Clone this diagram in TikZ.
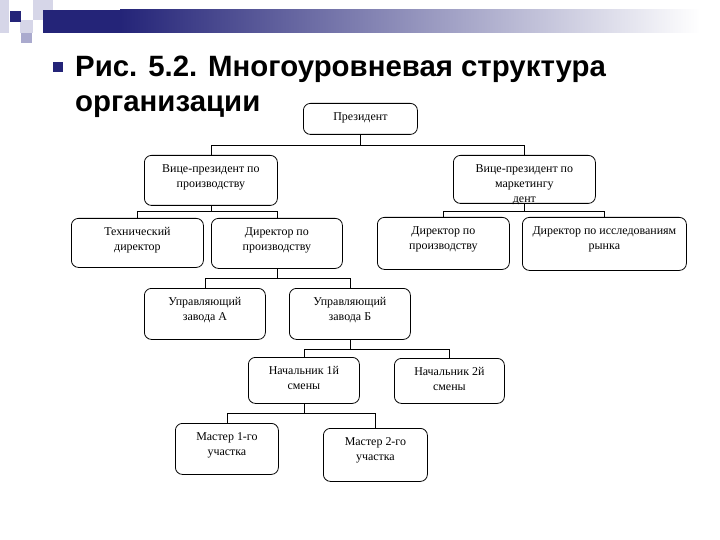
\documentclass[tikz,border=0pt]{standalone}
\usepackage{fontspec}
\setmainfont{Liberation Serif}
\newfontfamily\titlefont{Liberation Sans}
\usetikzlibrary{arrows}
\definecolor{barnavy}{RGB}{36,36,120}
\definecolor{lavlight}{RGB}{214,214,232}
\definecolor{lavmid}{RGB}{170,170,206}
\tikzstyle{orgbox} = [draw=black, fill=white, rectangle, rounded corners=7bp, inner sep=0pt, line width=0.8bp, anchor=north west]
\tikzstyle{link} = [draw=black, line width=0.8bp]
\tikzstyle{headline} = [anchor=base west, inner sep=0pt, font=\titlefont\bfseries\fontsize{29.5}{34}\selectfont]
\newcommand{\txt}[3]{\parbox[c][#2][t]{#1}{\centering\fontsize{12}{15}\selectfont\rule{0pt}{17bp}#3}}

\begin{document}
\begin{tikzpicture}[x=1bp,y=-1bp]
\useasboundingbox (0,0) rectangle (720,540);
% header decoration
\fill[lavlight] (0,0) rectangle (9,33);
\fill[lavlight] (33,0) rectangle (53,20);
\fill[lavlight] (20,20) rectangle (33,33);
\fill[lavmid] (21,33) rectangle (32,43);
\fill[barnavy] (10,11) rectangle (21,22);
\fill[barnavy] (43,10) rectangle (120,33);
\shade[left color=barnavy, right color=white] (120,10) rectangle (700,33);
% title
\node[fill=barnavy, minimum size=10bp, inner sep=0pt] (bullet) at (58,67) {};
\node[headline] (title1) at (75,77) {Рис. 5.2. Многоуровневая структура};
\node[headline] (title2) at (75,112) {организации};

% boxes
\node[orgbox] (pres) at (303,103) {\txt{114bp}{31bp}{Президент}};
\node[orgbox] (vpprod) at (144,155) {\txt{133bp}{50bp}{Вице-президент по\\производству}};
\node[orgbox] (vpmark) at (453,155) {\txt{142bp}{48bp}{Вице-президент по\\маркетингу\\дент}};
\node[orgbox] (techdir) at (71,218) {\txt{132bp}{49bp}{Технический\\директор}};
\node[orgbox] (dirprod) at (211,218) {\txt{131bp}{50bp}{Директор по\\производству}};
\node[orgbox] (dirprodm) at (377,217) {\txt{132bp}{52bp}{Директор по\\производству}};
\node[orgbox] (research) at (522,217) {\txt{164bp}{53bp}{Директор по исследованиям\\рынка}};
\node[orgbox] (uprA) at (144,288) {\txt{121bp}{51bp}{Управляющий\\завода А}};
\node[orgbox] (uprB) at (289,288) {\txt{121bp}{51bp}{Управляющий\\завода Б}};
\node[orgbox] (shift1) at (248,357) {\txt{111bp}{46bp}{Начальник 1й\\смены}};
\node[orgbox] (shift2) at (394,358) {\txt{110bp}{45bp}{Начальник 2й\\смены}};
\node[orgbox] (master1) at (175,423) {\txt{103bp}{51bp}{Мастер 1-го\\участка}};
\node[orgbox] (master2) at (323,428) {\txt{104bp}{53bp}{Мастер 2-го\\участка}};

% links
\foreach \child in {vpprod, vpmark}
    \draw[link] (pres.south) -- ++(0,11) -| (\child.north);
\foreach \child in {techdir, dirprod}
    \draw[link] (vpprod.south) -- ++(0,6) -| (\child.north);
\foreach \child in {dirprodm, research}
    \draw[link] (vpmark.south) -- ++(0,8) -| (\child.north);
\foreach \child in {uprA, uprB}
    \draw[link] (dirprod.south) -- ++(0,10) -| (\child.north);
\foreach \child in {shift1, shift2}
    \draw[link] (uprB.south) -- ++(0,10) -| (\child.north);
\foreach \child in {master1, master2}
    \draw[link] (shift1.south) -- ++(0,10) -| (\child.north);
\end{tikzpicture}
\end{document}
